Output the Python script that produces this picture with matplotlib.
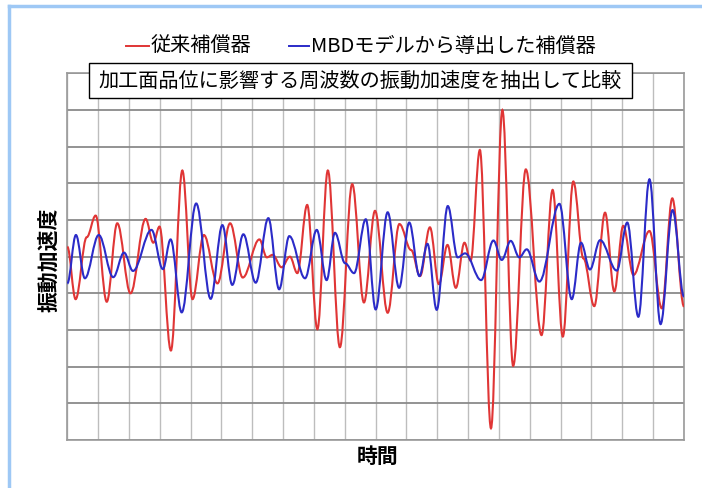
import numpy as np
import matplotlib
matplotlib.use('Agg')
import matplotlib.pyplot as plt
from matplotlib.path import Path
from matplotlib.patches import PathPatch, Rectangle
from matplotlib.lines import Line2D

plt.rcParams['font.family'] = ['Noto Sans CJK JP', 'DejaVu Sans']

# peaks / valleys (x: grid columns, y: grid rows)
red_x = [0.0, 0.27, 0.63, 0.92, 1.28, 1.62, 2.05, 2.54, 2.79, 2.99, 3.36, 3.73, 4.06, 4.43, 4.87,
         5.28, 5.69, 6.23, 6.47, 6.66, 6.95, 7.22, 7.46, 7.78, 8.11, 8.45, 8.84, 9.24, 9.62, 9.98,
         10.39, 10.77, 11.15, 11.44, 11.76, 12.05, 12.33, 12.60, 12.88, 13.08,
         13.38, 13.74, 14.11, 14.46, 14.87,
         15.38, 15.74, 16.07, 16.41, 16.74, 17.09, 17.44, 17.74, 18.03, 18.36, 18.88, 19.28, 19.62, 20.0]
red_y = [0.27, -1.16, 0.53, 1.12, -1.23, 0.91, -1.00, 1.03, 0.38, 0.82, -2.56, 2.35, -1.16, 0.59, -0.73,
         0.91, -0.57, 0.47, -0.02, 0.05, -0.29, 0.0, -0.45, 1.41, -1.98, 2.35, -2.47, 1.98, -1.25, 1.25,
         -1.53, 0.89, 0.18, -0.53, 0.80, -0.75, 0.32, -0.85, 0.38, -0.11,
         2.91, -4.68, 4.00, -2.98, 2.38,
         -2.14, 1.82, -2.18, 2.05, -0.05, -1.35, 1.20, -0.95, 0.84, -0.50, 0.70, -1.41, 1.59, -1.36]

blue_x = [0.0, 0.28, 0.57, 1.02, 1.49, 1.84, 2.13, 2.73, 3.10, 3.35, 3.71, 4.18, 4.65, 5.03,
          5.35, 5.71, 6.11, 6.52, 6.87, 7.20, 7.71, 8.09, 8.41, 8.68, 9.01, 9.30, 9.68, 10.0,
          10.39, 10.76, 11.09, 11.42, 11.68, 11.98, 12.34, 12.66, 12.90, 13.42, 13.82, 14.09, 14.38, 14.66, 14.90,
          15.31, 15.96, 16.36, 16.66, 16.95, 17.28, 17.82, 18.16, 18.52, 18.88, 19.24, 19.63, 20.0]
blue_y = [-0.73, 0.59, -0.59, 0.59, -0.56, 0.11, -0.39, 0.73, -0.34, 0.47, -1.52, 1.45, -1.15, 0.86,
          -0.77, 0.61, -0.71, 1.05, -0.89, 0.56, -0.59, 0.73, -0.64, 0.65, -0.18, -0.45, 1.02, -1.44,
          1.21, -0.85, 0.93, -0.53, 0.35, -1.45, 1.38, -0.02, 0.09, -0.64, 0.44, -0.09, 0.43, -0.02, 0.20,
          -0.68, 1.44, -1.16, 0.38, -0.35, 0.45, -0.38, 0.93, -1.64, 2.11, -1.84, 1.27, -1.09]

legend_labels = ['従来補償器', 'MBDモデルから導出した補償器']
note_text = '加工面品位に影響する周波数の振動加速度を抽出して比較'
x_label = '時間'
y_label = '振動加速度'

RED = '#e03535'
BLUE = '#2b2bc8'


def smooth_path(xs, ys, k=0.364):
    # cubic bezier between extrema, flat tangent at each point
    verts = [(xs[0], ys[0])]
    codes = [Path.MOVETO]
    for i in range(len(xs) - 1):
        dx = xs[i + 1] - xs[i]
        verts += [(xs[i] + k * dx, ys[i]), (xs[i + 1] - k * dx, ys[i + 1]), (xs[i + 1], ys[i + 1])]
        codes += [Path.CURVE4] * 3
    return Path(verts, codes)


W, H = 702, 488
fig = plt.figure(figsize=(W / 100, H / 100), dpi=100)
ax = fig.add_axes([67.3 / W, 1 - 440 / H, 616.7 / W, 366.7 / H])

ax.set_xlim(0, 20)
ax.set_ylim(-5, 5)
ax.set_xticks(range(21))
ax.set_yticks(range(-5, 6))
ax.tick_params(length=0, labelbottom=False, labelleft=False)
ax.grid(axis='x', color='#bdbdbd', lw=1.0)
ax.grid(axis='y', color='#8a8a8a', lw=1.3)
ax.set_axisbelow(True)
for s in ax.spines.values():
    s.set_color('#9a9a9a')
    s.set_linewidth(1.2)

ax.add_patch(PathPatch(smooth_path(red_x, red_y), fill=False, edgecolor=RED, lw=1.5, zorder=3))
ax.add_patch(PathPatch(smooth_path(blue_x, blue_y), fill=False, edgecolor=BLUE, lw=1.5, zorder=4))

# legend (drawn by hand to match the layout)
ly = 1 - 46 / H
fig.add_artist(Line2D([126 / W, 149 / W], [ly, ly], color=RED, lw=1.4, transform=fig.transFigure))
fig.text(151 / W, ly, legend_labels[0], fontsize=14.5, va='center', ha='left')
fig.add_artist(Line2D([289 / W, 309 / W], [ly, ly], color=BLUE, lw=1.4, transform=fig.transFigure))
fig.text(311 / W, ly, legend_labels[1], fontsize=14.5, va='center', ha='left')

# note box
fig.add_artist(Rectangle((89 / W, 1 - 98 / H), 543 / W, 35 / H, transform=fig.transFigure,
                         facecolor='white', edgecolor='black', lw=1.0, zorder=5))
fig.text(360.5 / W, 1 - 81 / H, note_text, fontsize=14.5, ha='center', va='center', zorder=6)

fig.text(49 / W, 1 - 260 / H, y_label, rotation=90, fontsize=15, fontweight='bold',
         ha='center', va='center')
fig.text(378 / W, 1 - 456 / H, x_label, fontsize=15, fontweight='bold', ha='center', va='center')

# light blue frame (left and top)
fig.add_artist(Line2D([8.5 / W, 8.5 / W], [0, 1 - 6 / H], color='#9ec8f5', lw=2.5, transform=fig.transFigure))
fig.add_artist(Line2D([8.5 / W, 1], [1 - 6 / H, 1 - 6 / H], color='#9ec8f5', lw=2.5, transform=fig.transFigure))

fig.savefig('out.png', dpi=100)
